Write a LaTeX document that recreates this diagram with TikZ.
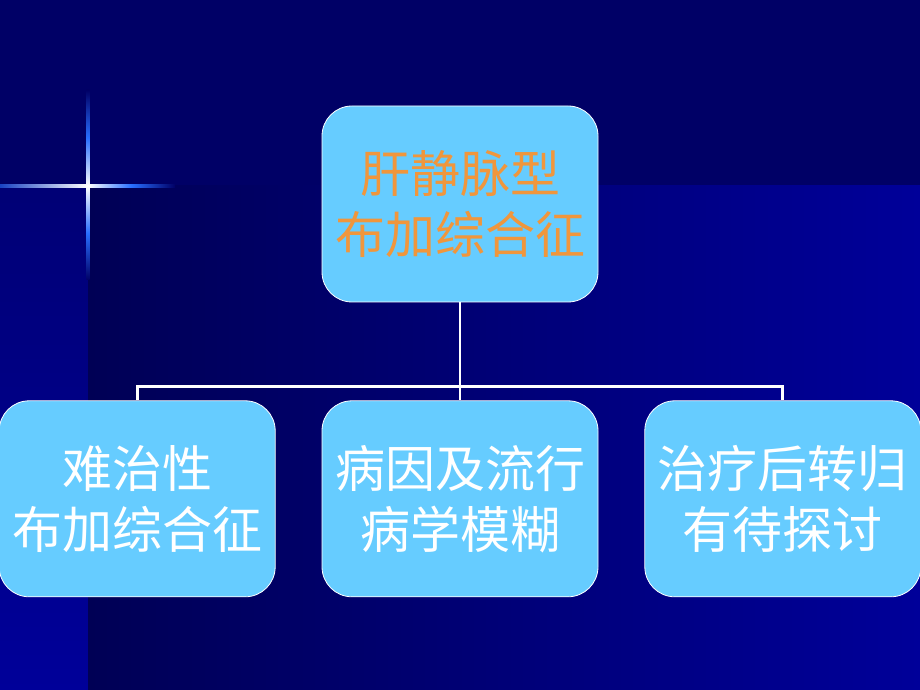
\documentclass[tikz,border=0pt]{standalone}
\usepackage{fontspec}
\newfontfamily\cjk{Noto Sans CJK SC}
\usepackage{tikz}
\usetikzlibrary{positioning}
\definecolor{bgdark}{RGB}{0,0,102}
\definecolor{bglight}{RGB}{0,0,153}
\definecolor{bgdeep}{RGB}{0,0,85}
\definecolor{boxblue}{RGB}{102,204,255}
\definecolor{titleorange}{RGB}{240,150,60}
\definecolor{glow}{RGB}{40,110,255}

\begin{document}
\begin{tikzpicture}
[x=1pt, y=1pt,
   box/.style={shape=rectangle, rounded corners=30pt, draw=white, line width=0.8pt,
     fill=boxblue, minimum width=276pt, minimum height=196pt, inner sep=0pt,
     align=center, font=\cjk\fontsize{50}{61}\selectfont, text=white},
   link/.style={draw=white, line width=2.8pt}]
\useasboundingbox (0,0) rectangle (920,690);
% background
\fill[bgdark] (0,0) rectangle (920,690);
\shade[top color=bgdark!70!bglight, bottom color=bglight] (0,0) rectangle (88,504);
\shade[left color=bgdeep, right color=bglight] (88,0) rectangle (920,504);
% star
\shade[left color=glow!60!bgdark, right color=white] (0,502.5) rectangle (88,505.5);
\shade[left color=white, right color=bgdark, middle color=glow] (88,502.5) rectangle (175,505.5);
\shade[top color=bgdark, bottom color=white, middle color=glow] (86.5,600) rectangle (89.5,504);
\shade[top color=white, bottom color=bgdark, middle color=glow] (86.5,504) rectangle (89.5,410);
% chart
\node[box, text=titleorange] (liver) at (460,486) {肝静脉型\\布加综合征};
\node[box] (cause) [below=98pt of liver] {病因及流行\\病学模糊};
\node[box] (hard) [left=46pt of cause] {难治性\\布加综合征};
\node[box] (outcome) [right=46pt of cause] {治疗后转归\\有待探讨};
\draw[link] (liver) -- (cause);
\draw[link] (hard.north) -- ++(0,14pt) -| (outcome.north);
\end{tikzpicture}
\end{document}
